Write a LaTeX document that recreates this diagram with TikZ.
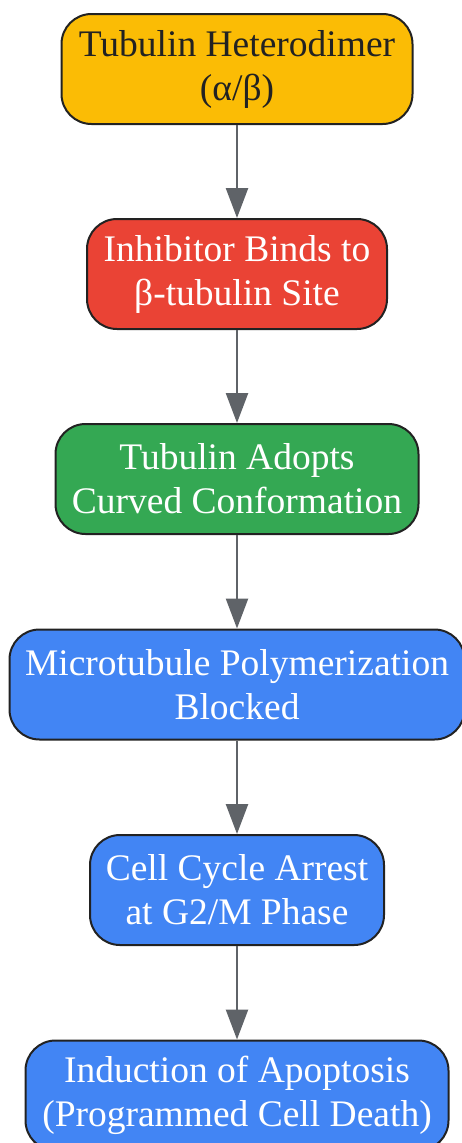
\documentclass[tikz,border=0pt]{standalone}
\usepackage{fontspec}
\setmainfont{Liberation Serif}
\usetikzlibrary{arrows.meta}
\definecolor{gyellow}{HTML}{FBBC05}
\definecolor{gred}{HTML}{EA4335}
\definecolor{ggreen}{HTML}{34A853}
\definecolor{gblue}{HTML}{4285F4}
\definecolor{edge}{HTML}{5F6368}
\definecolor{border}{HTML}{222222}
\tikzset{
  x=1pt,y=-1pt,
  box/.style={draw=border, line width=2pt, rounded corners=30pt, inner sep=0pt,
    minimum height=110pt, align=center,
    font=\fontsize{37.5pt}{44pt}\selectfont},
  conn/.style={draw=edge, line width=2.5pt, -{Triangle[length=30pt,width=22pt]}}
}
\begin{document}
\begin{tikzpicture}
\useasboundingbox (0,0) rectangle (462,1143);
\node[box, fill=gyellow, text=border, minimum width=351pt] (n1) at (237,69) {Tubulin Heterodimer\\(α/β)};
\node[box, fill=gred, text=white, minimum width=300pt] (n2) at (237,274) {Inhibitor Binds to\\β-tubulin Site};
\node[box, fill=ggreen, text=white, minimum width=363pt] (n3) at (237,479) {Tubulin Adopts\\Curved Conformation};
\node[box, fill=gblue, text=white, minimum width=455pt] (n4) at (237,684.5) {Microtubule Polymerization\\Blocked};
\node[box, fill=gblue, text=white, minimum width=294pt] (n5) at (237,890) {Cell Cycle Arrest\\at G2/M Phase};
\node[box, fill=gblue, text=white, minimum width=423pt] (n6) at (237,1095.5) {Induction of Apoptosis\\(Programmed Cell Death)};
\draw[conn] (n1) -- (n2);
\draw[conn] (n2) -- (n3);
\draw[conn] (n3) -- (n4);
\draw[conn] (n4) -- (n5);
\draw[conn] (n5) -- (n6);
\end{tikzpicture}
\end{document}
